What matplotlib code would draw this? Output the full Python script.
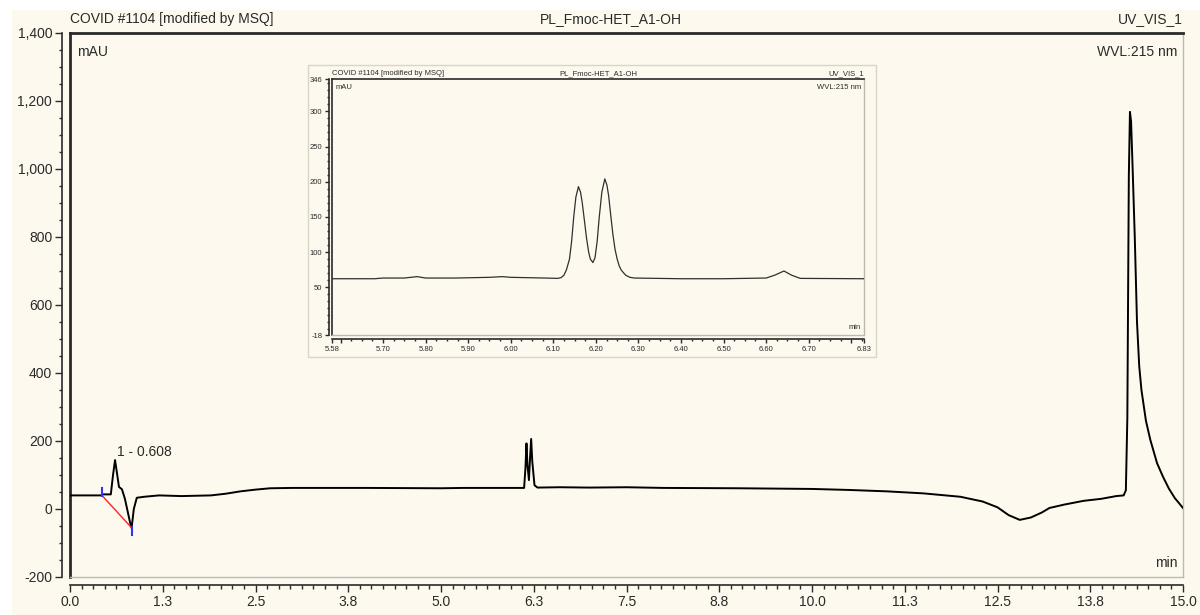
import matplotlib
matplotlib.use("Agg")
import matplotlib.pyplot as plt
from matplotlib.patches import Rectangle
from matplotlib.ticker import MultipleLocator, FixedLocator

plt.rcParams['font.family'] = ['Liberation Sans', 'DejaVu Sans']

# main trace (min, mAU)
main_time = [0.0, 0.43, 0.44, 0.55, 0.58, 0.607, 0.63, 0.66, 0.70, 0.74, 0.78, 0.81, 0.83,
             0.86, 0.90, 1.0, 1.2, 1.5, 1.9, 2.1, 2.3, 2.5, 2.7, 3.0, 4.0, 5.0, 5.3, 6.0,
             6.12, 6.138, 6.152, 6.165, 6.185, 6.20, 6.215, 6.23, 6.26, 6.30, 6.6, 7.0, 7.5,
             8.0, 9.0, 10.0, 10.5, 11.0, 11.5, 12.0, 12.3, 12.5, 12.65, 12.8, 12.95, 13.1,
             13.2, 13.4, 13.66, 13.9, 14.1, 14.2, 14.23, 14.25, 14.27, 14.285, 14.30, 14.32,
             14.35, 14.38, 14.41, 14.44, 14.50, 14.56, 14.65, 14.73, 14.81, 14.89, 15.0]
main_mau = [40, 40, 43, 43, 100, 144, 110, 65, 58, 30, -10, -40, -56,
            0, 33, 36, 40, 38, 40, 45, 52, 57, 61, 62, 62, 61, 62, 62,
            62, 120, 193, 130, 85, 150, 206, 140, 70, 63, 64, 63, 64,
            62, 61, 59, 56, 52, 46, 36, 22, 5, -18, -32, -25, -10,
            3, 13, 24, 30, 38, 40, 55, 270, 980, 1168, 1140, 1010,
            800, 550, 420, 350, 260, 203, 135, 95, 60, 32, 3]

# zoomed trace for the inset
inset_time = [5.58, 5.68, 5.70, 5.75, 5.78, 5.80, 5.87, 5.95, 5.98, 6.00, 6.08, 6.11,
              6.118, 6.125, 6.131, 6.138, 6.143, 6.148, 6.153, 6.159, 6.164, 6.168, 6.173,
              6.178, 6.183, 6.187, 6.193, 6.198, 6.203, 6.208, 6.214, 6.221, 6.226, 6.23,
              6.235, 6.24, 6.245, 6.25, 6.255, 6.26, 6.27, 6.28, 6.29, 6.40, 6.50, 6.60,
              6.62, 6.642, 6.66, 6.68, 6.83]
inset_mau = [62, 62, 63, 63, 65, 63, 63, 64, 65, 64, 63, 62.5,
             63.5, 67, 75, 90, 115, 150, 178, 193, 185, 170, 145,
             120, 100, 90, 85, 92, 115, 150, 185, 204, 195, 180,
             152, 125, 104, 90, 80, 74, 67, 64, 63, 62, 62, 63,
             67, 73, 67, 62.5, 62]

peak_label = "1 - 0.608"
peak_time = 0.608
baseline_time = [0.43, 0.83]
baseline_mau = [40, -55]

x_ticks = [0.0, 1.25, 2.5, 3.75, 5.0, 6.25, 7.5, 8.75, 10.0, 11.25, 12.5, 13.75, 15.0]
x_tick_labels = ["0.0", "1.3", "2.5", "3.8", "5.0", "6.3", "7.5", "8.8", "10.0",
                 "11.3", "12.5", "13.8", "15.0"]
y_ticks = [-200, 0, 200, 400, 600, 800, 1000, 1200, 1400]
y_tick_labels = ["-200", "0", "200", "400", "600", "800", "1,000", "1,200", "1,400"]

inset_x_ticks = [5.58, 5.60, 5.70, 5.80, 5.90, 6.00, 6.10, 6.20, 6.30, 6.40, 6.50,
                 6.60, 6.70, 6.80, 6.83]
inset_x_labels = ["5.58", "", "5.70", "5.80", "5.90", "6.00", "6.10", "6.20", "6.30",
                  "6.40", "6.50", "6.60", "6.70", "", "6.83"]
inset_y_ticks = [-18, 50, 100, 150, 200, 250, 300, 346]
inset_y_labels = ["-18", "50", "100", "150", "200", "250", "300", "346"]

CREAM = '#fdf9ee'
DARK = '#2a2a2a'
FRAME_GRAY = '#bdb9ad'
W, H = 1200, 615

fig = plt.figure(figsize=(12, 6.15), dpi=100, facecolor='white')
fig.add_artist(Rectangle((12 / W, 0), 1 - 12 / W, 1 - 10 / H, transform=fig.transFigure,
                         facecolor=CREAM, edgecolor='none', zorder=-5))


def style_axes(ax, out_px, maj_px, min_px, lab_size, frame_lw):
    pt = 0.72
    ax.set_facecolor('none')
    ax.spines['left'].set_position(('outward', out_px[0] * pt))
    ax.spines['bottom'].set_position(('outward', out_px[1] * pt))
    for s in ('left', 'bottom'):
        ax.spines[s].set_color(DARK)
        ax.spines[s].set_linewidth(1.2)
    ax.spines['top'].set_color(DARK)
    ax.spines['top'].set_linewidth(frame_lw)
    ax.spines['right'].set_color(FRAME_GRAY)
    ax.spines['right'].set_linewidth(1.0)
    ax.axvline(ax.get_xlim()[0], color=DARK, lw=frame_lw, clip_on=False, zorder=1)
    ax.axhline(ax.get_ylim()[0], color=FRAME_GRAY, lw=1.0, clip_on=False, zorder=1)
    ax.tick_params(which='major', direction='out', length=maj_px * pt, width=1,
                   color=DARK, labelsize=lab_size, labelcolor=DARK, pad=2)
    ax.tick_params(which='minor', direction='out', length=min_px * pt, width=1, color=DARK)


# main chromatogram
ax = fig.add_axes([70 / W, 38 / H, 1113 / W, 544 / H])
ax.set_xlim(0, 15)
ax.set_ylim(-200, 1400)
ax.plot(main_time, main_mau, color='black', lw=1.4, zorder=3)
ax.plot(baseline_time, baseline_mau, color='#ff2020', lw=1.0, zorder=4)
ax.plot([baseline_time[0]] * 2, [baseline_mau[0] - 2, baseline_mau[0] + 22], color='#3030ff', lw=1.5, zorder=5)
ax.plot([baseline_time[1]] * 2, [baseline_mau[1] + 2, baseline_mau[1] - 22], color='#3030ff', lw=1.5, zorder=5)
ax.text(peak_time + 0.02, 168, peak_label, fontsize=10, color=DARK, va='center', ha='left')

ax.xaxis.set_major_locator(FixedLocator(x_ticks))
ax.set_xticklabels(x_tick_labels)
ax.xaxis.set_minor_locator(MultipleLocator(1.25 / 8))
ax.yaxis.set_major_locator(FixedLocator(y_ticks))
ax.set_yticklabels(y_tick_labels)
ax.yaxis.set_minor_locator(MultipleLocator(50))
style_axes(ax, (8, 8), 7, 3.5, 10, 2.0)

ax.text(0.0, 1.012, "COVID #1104 [modified by MSQ]", transform=ax.transAxes,
        fontsize=10, color=DARK, ha='left', va='bottom')
ax.text(0.486, 1.012, "PL_Fmoc-HET_A1-OH", transform=ax.transAxes,
        fontsize=10, color=DARK, ha='center', va='bottom')
ax.text(1.0, 1.012, "UV_VIS_1", transform=ax.transAxes,
        fontsize=10, color=DARK, ha='right', va='bottom')
ax.text(0.006, 0.965, "mAU", transform=ax.transAxes, fontsize=10, color=DARK,
        ha='left', va='center')
ax.text(0.995, 0.965, "WVL:215 nm", transform=ax.transAxes, fontsize=10, color=DARK,
        ha='right', va='center')
ax.text(0.995, 0.012, "min", transform=ax.transAxes, fontsize=10, color=DARK,
        ha='right', va='bottom')

# inset panel
fig.add_artist(Rectangle((308 / W, (H - 357) / H), (876 - 308) / W, (357 - 65) / H,
                         transform=fig.transFigure, facecolor=CREAM,
                         edgecolor='#d9d5c9', lw=1.0, zorder=2))
axi = fig.add_axes([332 / W, (H - 335) / H, 532 / W, 256 / H], zorder=3)
axi.set_xlim(5.58, 6.83)
axi.set_ylim(-18, 346)
axi.plot(inset_time, inset_mau, color='#303030', lw=0.9, zorder=3)
axi.xaxis.set_major_locator(FixedLocator(inset_x_ticks))
axi.set_xticklabels(inset_x_labels)
axi.xaxis.set_minor_locator(MultipleLocator(0.025))
axi.yaxis.set_major_locator(FixedLocator(inset_y_ticks))
axi.set_yticklabels(inset_y_labels)
axi.yaxis.set_minor_locator(MultipleLocator(10))
style_axes(axi, (3, 4), 4, 2, 5.5, 1.2)

axi.text(0.0, 1.008, "COVID #1104 [modified by MSQ]", transform=axi.transAxes,
         fontsize=5.5, color=DARK, ha='left', va='bottom')
axi.text(0.5, 1.008, "PL_Fmoc-HET_A1-OH", transform=axi.transAxes,
         fontsize=5.5, color=DARK, ha='center', va='bottom')
axi.text(1.0, 1.008, "UV_VIS_1", transform=axi.transAxes,
         fontsize=5.5, color=DARK, ha='right', va='bottom')
axi.text(0.006, 0.98, "mAU", transform=axi.transAxes, fontsize=5.5, color=DARK,
         ha='left', va='top')
axi.text(0.994, 0.98, "WVL:215 nm", transform=axi.transAxes, fontsize=5.5, color=DARK,
         ha='right', va='top')
axi.text(0.994, 0.015, "min", transform=axi.transAxes, fontsize=5.5, color=DARK,
         ha='right', va='bottom')

fig.savefig("out.png", dpi=100, facecolor=fig.get_facecolor())
